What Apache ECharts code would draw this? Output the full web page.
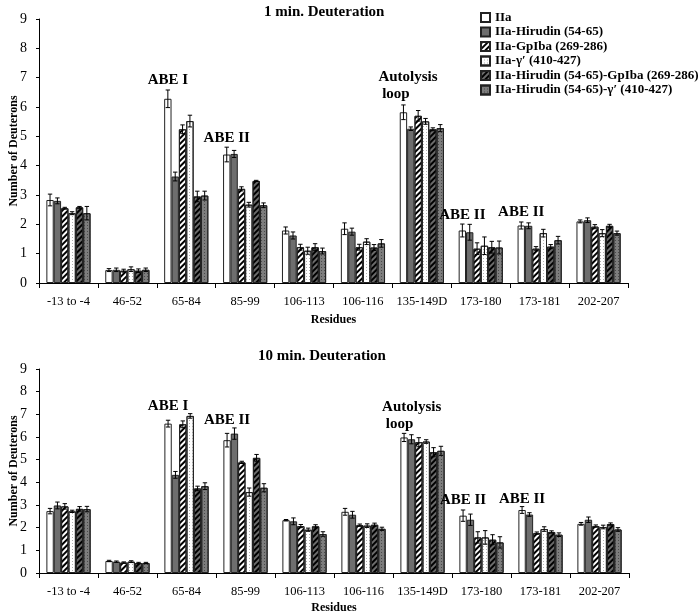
<!DOCTYPE html>
<html><head><meta charset="utf-8">
<script src="https://cdn.jsdelivr.net/npm/echarts@6/dist/echarts.min.js"></script>
<style>html,body{margin:0;padding:0;background:#fff}#c{width:700px;height:614px}</style>
</head><body><div id="c"></div>
<script>
// ---------- data ----------
const categories = ['-13 to -4','46-52','65-84','85-99','106-113','106-116','135-149D','173-180','173-181','202-207'];
const seriesNames = ['IIa','IIa-Hirudin (54-65)','IIa-GpIba (269-286)','IIa-\u03b3\u2032 (410-427)','IIa-Hirudin (54-65)-GpIba (269-286)','IIa-Hirudin (54-65)-\u03b3\u2032 (410-427)'];
const yTicks = [0,1,2,3,4,5,6,7,8,9];

// 1 min deuteration
const m1_IIa       = [2.83,0.44,6.28,4.38,1.79,1.85,5.82,1.79,1.96,2.10];
const m1_IIa_err   = [0.20,0.05,0.30,0.25,0.12,0.20,0.25,0.22,0.12,0.05];
const m1_Hir       = [2.80,0.45,3.63,4.40,1.62,1.75,5.26,1.73,1.95,2.14];
const m1_Hir_err   = [0.10,0.06,0.15,0.12,0.12,0.12,0.06,0.27,0.10,0.08];
const m1_Gp        = [2.55,0.42,5.24,3.21,1.22,1.22,5.70,1.17,1.17,1.92];
const m1_Gp_err    = [0.03,0.05,0.15,0.07,0.10,0.10,0.18,0.20,0.07,0.07];
const m1_G         = [2.38,0.47,5.52,2.67,1.10,1.41,5.51,1.27,1.70,1.70];
const m1_G_err     = [0.05,0.08,0.20,0.08,0.12,0.10,0.10,0.30,0.13,0.12];
const m1_HirGp     = [2.58,0.42,2.95,3.48,1.22,1.21,5.24,1.22,1.24,1.95];
const m1_HirGp_err = [0.03,0.06,0.18,0.02,0.12,0.10,0.05,0.20,0.07,0.05];
const m1_HirG      = [2.38,0.45,2.98,2.65,1.09,1.35,5.28,1.21,1.46,1.70];
const m1_HirG_err  = [0.23,0.06,0.15,0.08,0.10,0.13,0.12,0.22,0.13,0.07];

// 10 min deuteration
const m10_IIa       = [2.73,0.53,6.59,5.86,2.33,2.70,5.98,2.53,2.78,2.17];
const m10_IIa_err   = [0.12,0.03,0.15,0.30,0.03,0.15,0.18,0.25,0.15,0.06];
const m10_Hir       = [2.98,0.50,4.33,6.15,2.28,2.57,5.90,2.35,2.58,2.35];
const m10_Hir_err   = [0.15,0.03,0.15,0.25,0.15,0.15,0.20,0.25,0.08,0.12];
const m10_Gp        = [2.94,0.46,6.56,4.88,2.07,2.11,5.77,1.57,1.76,2.07];
const m10_Gp_err    = [0.12,0.03,0.15,0.05,0.07,0.05,0.20,0.25,0.05,0.05];
const m10_G         = [2.72,0.50,6.93,3.57,1.91,2.09,5.80,1.57,1.94,2.03];
const m10_G_err     = [0.05,0.04,0.10,0.18,0.07,0.08,0.08,0.30,0.10,0.08];
const m10_HirGp     = [2.83,0.44,3.73,5.08,2.06,2.13,5.33,1.47,1.81,2.16];
const m10_HirGp_err = [0.10,0.03,0.10,0.15,0.07,0.07,0.20,0.22,0.05,0.05];
const m10_HirG      = [2.82,0.44,3.83,3.76,1.72,1.95,5.39,1.35,1.69,1.92];
const m10_HirG_err  = [0.12,0.03,0.15,0.18,0.10,0.07,0.20,0.25,0.08,0.08];

// annotations: [category, y value, text]
const notes1  = [['65-84',6.93,'ABE I'],['85-99',4.95,'ABE II'],['173-180',2.32,'ABE II'],['173-181',2.42,'ABE II']];
const notes10 = [['65-84',7.37,'ABE I'],['85-99',6.75,'ABE II'],['173-180',3.23,'ABE II'],['173-181',3.27,'ABE II']];
const auto1  = ['135-149D',6.72,'Autolysis\n loop'];
const auto10 = ['135-149D',6.93,'Autolysis\n loop'];

// ---------- styles ----------
const FONT = 'Liberation Serif';
const GAP = 0.25;
const styles = [
  {color:'#ffffff'},
  {color:'#6e6e6e'},
  {color:'#ffffff', decal:{symbol:'rect', dashArrayX:[1,0], dashArrayY:[2,2], rotation:-Math.PI/4, color:'#000'}},
  {color:'#ffffff', decal:{symbol:'rect', symbolSize:1, dashArrayX:[1,2], dashArrayY:[1,2], color:'#b0b0b0'}},
  {color:'#6a6a6a', decal:{symbol:'rect', dashArrayX:[1,0], dashArrayY:[2,2], rotation:-Math.PI/4, color:'#000'}},
  {color:'#7d7d7d', decal:{symbol:'rect', symbolSize:1, dashArrayX:[1,2], dashArrayY:[1,2], color:'#4a4a4a'}}
];

const set1 = [[m1_IIa,m1_IIa_err],[m1_Hir,m1_Hir_err],[m1_Gp,m1_Gp_err],[m1_G,m1_G_err],[m1_HirGp,m1_HirGp_err],[m1_HirG,m1_HirG_err]];
const set10 = [[m10_IIa,m10_IIa_err],[m10_Hir,m10_Hir_err],[m10_Gp,m10_Gp_err],[m10_G,m10_G_err],[m10_HirGp,m10_HirGp_err],[m10_HirG,m10_HirG_err]];

function noteLabel(txt, extra){
  return Object.assign({show:true, position:'inside', formatter:txt, color:'#000',
    fontFamily:FONT, fontWeight:'bold', fontSize:15, lineHeight:17}, extra||{});
}
function markPts(notes, auto, autoOff){
  const d = notes.map(n => ({coord:[n[0], n[1]], label:noteLabel(n[2])}));
  d.push({coord:[auto[0], auto[1]], label:noteLabel(auto[2], {align:'left', offset:[autoOff,0]})});
  return {symbol:'circle', symbolSize:0, silent:true, data:d};
}

function errSeries(si, gi, vals, errs){
  return {
    type:'custom', xAxisIndex:gi, yAxisIndex:gi, z:10, silent:true,
    data: vals.map((v,i)=>[i, v, errs[i]]),
    encode:{x:0, y:1},
    renderItem(params, api){
      const i = api.value(0), v = api.value(1), e = api.value(2);
      const catW = api.size([1,0])[0];
      const bw = catW*(1-GAP)/6;
      const x = api.coord([i, v])[0] + (si-2.5)*bw;
      const yHi = api.coord([i, v+e])[1], yLo = api.coord([i, v-e])[1];
      const c = 2.2, st = {stroke:'#000', lineWidth:1};
      return {type:'group', children:[
        {type:'line', shape:{x1:x,y1:yHi,x2:x,y2:yLo}, style:st},
        {type:'line', shape:{x1:x-c,y1:yHi,x2:x+c,y2:yHi}, style:st},
        {type:'line', shape:{x1:x-c,y1:yLo,x2:x+c,y2:yLo}, style:st}
      ]};
    }
  };
}

const series = [];
[set1, set10].forEach((set, gi) => {
  set.forEach((pair, si) => {
    const s = {
      name: seriesNames[si], type:'bar', xAxisIndex:gi, yAxisIndex:gi,
      data: pair[0], barGap:'0%', barCategoryGap:(GAP*100)+'%',
      itemStyle: Object.assign({borderColor:'#222', borderWidth:1}, styles[si]),
      emphasis:{disabled:true}
    };
    if (si === 0) s.markPoint = gi===0 ? markPts(notes1, auto1, -25) : markPts(notes10, auto10, -22);
    series.push(s);
    series.push(errSeries(si, gi, pair[0], pair[1]));
  });
});

function xAx(gi, nameGap){
  return {type:'category', gridIndex:gi, data:categories,
    axisLine:{lineStyle:{color:'#000', width:1}},
    axisTick:{show:true, length:5, interval:0, lineStyle:{color:'#000'}},
    axisLabel:{color:'#000', fontFamily:FONT, fontSize:12.5, margin:12, interval:0},
    name:'Residues', nameLocation:'middle', nameGap:nameGap, nameMoveOverlap:false,
    nameTextStyle:{color:'#000', fontFamily:FONT, fontWeight:'bold', fontSize:12}};
}
function yAx(gi){
  return {type:'value', gridIndex:gi, min:yTicks[0], max:yTicks[yTicks.length-1], interval:1,
    splitLine:{show:false},
    axisLine:{show:true, lineStyle:{color:'#000', width:1}},
    axisTick:{show:true, length:3, lineStyle:{color:'#000'}},
    axisLabel:{color:'#000', fontFamily:FONT, fontSize:14, margin:12},
    name:'Number of Deuterons', nameLocation:'middle', nameGap:19, nameRotate:90, nameMoveOverlap:false,
    nameTextStyle:{color:'#000', fontFamily:FONT, fontWeight:'bold', fontSize:12}};
}

const chart = echarts.init(document.getElementById('c'), null, {renderer:'canvas'});
chart.setOption({
  animation:false,
  backgroundColor:'#fff',
  title:[
    {text:'1 min. Deuteration', left:259, top:0, textStyle:{fontFamily:FONT, fontWeight:'bold', fontSize:15, color:'#000'}},
    {text:'10 min. Deuteration', left:253, top:344, textStyle:{fontFamily:FONT, fontWeight:'bold', fontSize:15, color:'#000'}}
  ],
  legend:{
    data:seriesNames, orient:'vertical', left:475, top:6, itemWidth:9, itemHeight:9, itemGap:1.5,
    icon:'rect', selectedMode:false,
    textStyle:{fontFamily:FONT, fontWeight:'bold', fontSize:13, color:'#000', lineHeight:12}
  },
  grid:[
    {left:39, right:72, top:19, height:264, containLabel:false, outerBoundsMode:'none'},
    {left:39, right:71, top:369, height:204, containLabel:false, outerBoundsMode:'none'}
  ],
  xAxis:[xAx(0,31), xAx(1,29)],
  yAxis:[yAx(0), yAx(1)],
  series:series
});
</script></body></html>
